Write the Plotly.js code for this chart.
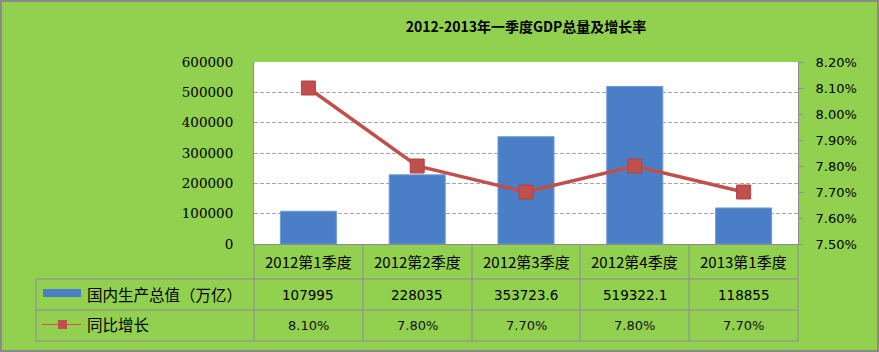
<!DOCTYPE html>
<html>
<head>
<meta charset="utf-8">
<script src="https://cdn.plot.ly/plotly-3.0.1.min.js"></script>
<style>html,body{margin:0;padding:0;background:#92D050;}#chart{width:879px;height:352px;}</style>
</head>
<body>
<div id="chart"></div>
<script>
const categories = ['2012第1季度', '2012第2季度', '2012第3季度', '2012第4季度', '2013第1季度'];
const gdp = [107995, 228035, 353723.6, 519322.1, 118855];
const gdpLabels = ['107995', '228035', '353723.6', '519322.1', '118855'];
const growth = [0.081, 0.078, 0.077, 0.078, 0.077];
const seriesNames = ['国内生产总值（万亿）', '同比增长'];
const titleText = '2012-2013年一季度GDP总量及增长率';

const W = 879, H = 352, L = 254, R = 798, T = 62, B = 244;
const fx = px => (px - L) / (R - L);
const fy = py => (B - py) / (B - T);
const gridCol = '#a6a6a6';
const lineCol = '#8c8a9a';
const blue = '#4a7ec6', red = '#c0504d';

const traces = [
  {type: 'bar', x: categories, y: gdp, name: seriesNames[0],
   marker: {color: blue, line: {color: '#6e9bd6', width: 1}}, hoverinfo: 'none'},
  {type: 'scatter', mode: 'lines+markers', x: categories, y: growth, yaxis: 'y2', name: seriesNames[1],
   line: {color: red, width: 3.5}, marker: {symbol: 'square', size: 14, color: red, line: {color: '#b5413e', width: 1}}, hoverinfo: 'none'}
];

const shapes = [];
const line = (x0, y0, x1, y1, col, w) => shapes.push({type: 'line', xref: 'paper', yref: 'paper',
  x0: fx(x0), y0: fy(y0), x1: fx(x1), y1: fy(y1), line: {color: col || lineCol, width: w || 1}});
// table grid
const colEdges = [254, 363, 472, 580, 689, 798];
line(36, 279, 798, 279); line(36, 310, 798, 310); line(36, 341, 798, 341);
line(36, 279, 36, 341);
colEdges.forEach(x => line(x, 244, x, 341));
// legend keys
shapes.push({type: 'rect', xref: 'paper', yref: 'paper', x0: fx(43), x1: fx(81), y0: fy(297), y1: fy(289),
  fillcolor: blue, line: {width: 0}});
line(42, 324.5, 81, 324.5, '#e04a4a', 1.2);
shapes.push({type: 'rect', xref: 'paper', yref: 'paper', x0: fx(58), x1: fx(67), y0: fy(329), y1: fy(320),
  fillcolor: red, line: {width: 0}});
// outer border
shapes.push({type: 'rect', xref: 'paper', yref: 'paper', x0: fx(1), x1: fx(W - 1), y0: fy(H - 1), y1: fy(1),
  line: {color: '#8a8a8a', width: 2}, fillcolor: 'rgba(0,0,0,0)'});

const annotations = [];
const cjk = '"Noto Sans CJK SC", sans-serif';
const sans = '"DejaVu Sans", sans-serif';
categories.forEach((c, i) => {
  annotations.push({xref: 'x', yref: 'paper', x: c, y: fy(261), text: c, showarrow: false,
    font: {family: cjk, size: 15, color: '#000'}, xanchor: 'center', yanchor: 'middle'});
  annotations.push({xref: 'x', yref: 'paper', x: c, y: fy(294.5), text: gdpLabels[i], showarrow: false,
    font: {family: sans, size: 13.5, color: '#000'}, xanchor: 'center', yanchor: 'middle'});
  annotations.push({xref: 'x', yref: 'paper', x: c, y: fy(325.5), text: (growth[i] * 100).toFixed(2) + '%', showarrow: false,
    font: {family: sans, size: 13, color: '#111'}, xanchor: 'center', yanchor: 'middle'});
});
annotations.push({xref: 'paper', yref: 'paper', x: fx(85), y: fy(293.5), text: seriesNames[0], showarrow: false,
  font: {family: cjk, size: 15.5, color: '#000'}, xanchor: 'left', yanchor: 'middle'});
annotations.push({xref: 'paper', yref: 'paper', x: fx(85), y: fy(324), text: seriesNames[1], showarrow: false,
  font: {family: cjk, size: 15.5, color: '#000'}, xanchor: 'left', yanchor: 'middle'});

const layout = {
  width: W, height: H,
  margin: {l: L, r: W - R, t: T, b: H - B, pad: 0},
  paper_bgcolor: '#92D050', plot_bgcolor: '#ffffff',
  showlegend: false,
  title: {text: titleText, x: 0.5, xref: 'paper', xanchor: 'center', y: 1 - 27 / H, yref: 'container', yanchor: 'middle',
    font: {family: cjk, size: 14, color: '#000', weight: 'bold'}},
  bargap: 0.485,
  xaxis: {type: 'category', range: [-0.5, 4.5], showticklabels: false, ticks: '', showgrid: false, zeroline: false,
    showline: true, linecolor: lineCol, linewidth: 1, fixedrange: true},
  yaxis: {range: [0, 600000], dtick: 100000, tickformat: 'd', showgrid: true, gridcolor: gridCol, griddash: '4px,2px', gridwidth: 1,
    zeroline: false, showline: true, linecolor: lineCol, ticks: 'outside', ticklen: 17, tickcolor: 'rgba(0,0,0,0)',
    tickfont: {family: '"DejaVu Serif", serif', size: 13.5, color: '#000'}, fixedrange: true},
  yaxis2: {overlaying: 'y', side: 'right', range: [0.075, 0.082], dtick: 0.001, tickformat: '.2%', showgrid: false, zeroline: false,
    showline: true, linecolor: lineCol, ticks: 'outside', ticklen: 4, tickcolor: lineCol, ticklabelstandoff: 10,
    tickfont: {family: sans, size: 13, color: '#000'}, fixedrange: true},
  shapes: shapes, annotations: annotations
};
Plotly.newPlot('chart', traces, layout, {staticPlot: true, displayModeBar: false});
</script>
</body>
</html>
